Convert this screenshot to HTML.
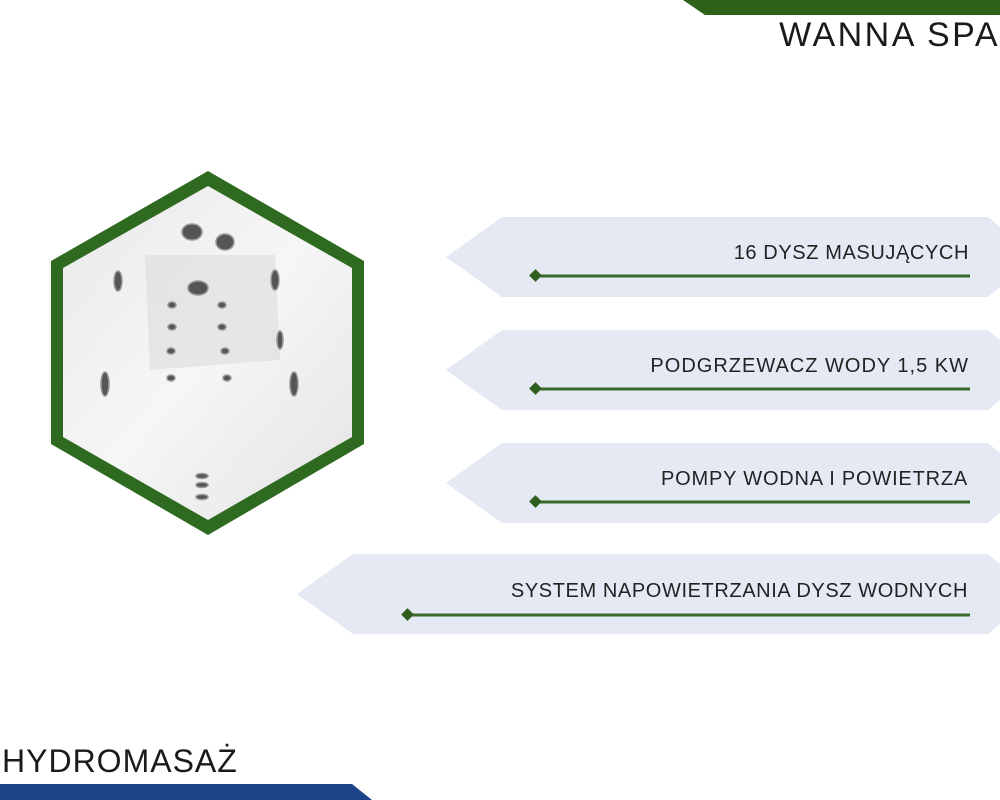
<!DOCTYPE html>
<html><head><meta charset="utf-8"><style>
body{margin:0;width:1000px;height:800px;background:#fff;overflow:hidden;position:relative;font-family:"Liberation Sans","DejaVu Sans",sans-serif}
.t{position:absolute;color:#1a1a1a;white-space:nowrap}
.f{font-size:20px;letter-spacing:0.7px;color:#222}
</style></head><body>
<svg width="1000" height="800" style="position:absolute;left:0;top:0">
<defs>
<linearGradient id="g" x1="0" y1="0" x2="1" y2="1">
<stop offset="0" stop-color="#e9e9e9"/><stop offset="0.5" stop-color="#f6f6f6"/><stop offset="1" stop-color="#e4e4e4"/></linearGradient>
</defs>
<polygon points="683,0 1000,0 1000,15 705,15" fill="#2e6219"/>
<polygon points="0,784 352,784 372,800 0,800" fill="#1a4388"/>
<polygon points="208,171 364,261 364,444 208,535 51,444 51,261" fill="#2e6a1f"/>
<polygon points="208,186 352,268 352,437 208,520 63,437 63,268" fill="url(#g)"/>
<polygon points="145,255 275,255 280,360 150,370" fill="#dcdcdc" opacity="0.6"/>
<g fill="#555" stroke="#999" stroke-width="1.5">
<ellipse cx="192" cy="232" rx="10" ry="8"/><ellipse cx="225" cy="242" rx="9" ry="8"/>
<ellipse cx="198" cy="288" rx="10" ry="7"/>
<ellipse cx="118" cy="281" rx="4" ry="10"/><ellipse cx="275" cy="280" rx="4" ry="10"/>
<ellipse cx="280" cy="340" rx="3" ry="9"/>
<ellipse cx="105" cy="384" rx="4" ry="12"/><ellipse cx="294" cy="384" rx="4" ry="12"/>
<ellipse cx="172" cy="305" rx="4" ry="3"/><ellipse cx="222" cy="305" rx="4" ry="3"/>
<ellipse cx="172" cy="327" rx="4" ry="3"/><ellipse cx="222" cy="327" rx="4" ry="3"/>
<ellipse cx="171" cy="351" rx="4" ry="3"/><ellipse cx="225" cy="351" rx="4" ry="3"/>
<ellipse cx="171" cy="378" rx="4" ry="3"/><ellipse cx="227" cy="378" rx="4" ry="3"/>
<ellipse cx="202" cy="476" rx="6" ry="2.5"/><ellipse cx="202" cy="485" rx="6" ry="2.5"/><ellipse cx="202" cy="497" rx="6" ry="2.5"/>
</g>
<g fill="#e4e9f4">
<polygon points="446,257 502,217 988,217 1000,227 1000,287 988,297 502,297"/>
<polygon points="446,370 502,330 988,330 1000,340 1000,400 988,410 502,410"/>
<polygon points="446,483 502,443 988,443 1000,453 1000,513 988,523 502,523"/>
<polygon points="297,594 353,554 988,554 1000,564 1000,624 988,634 353,634"/>
</g>
<g stroke="#3a6a2a" stroke-width="3">
<line x1="536" y1="276" x2="970" y2="276"/>
<line x1="536" y1="389" x2="970" y2="389"/>
<line x1="536" y1="502" x2="970" y2="502"/>
<line x1="407" y1="615" x2="970" y2="615"/>
</g>
<g fill="#2e5f1e">
<rect x="531" y="271" width="9" height="9" transform="rotate(45 535.5 275.5)"/>
<rect x="531" y="384" width="9" height="9" transform="rotate(45 535.5 388.5)"/>
<rect x="531" y="497" width="9" height="9" transform="rotate(45 535.5 501.5)"/>
<rect x="403" y="610" width="9" height="9" transform="rotate(45 407.5 614.5)"/>
</g>
</svg>
<div class="t" style="right:0px;top:16px;font-size:34px;letter-spacing:2.5px">WANNA SPA</div>
<div class="t" style="left:2px;top:743px;font-size:32px;letter-spacing:1px">HYDROMASAŻ</div>
<div class="t f" style="right:31px;top:242px;letter-spacing:0.6px">16 DYSZ MASUJĄCYCH</div>
<div class="t f" style="right:31px;top:355px;letter-spacing:1px">PODGRZEWACZ WODY 1,5 KW</div>
<div class="t f" style="right:32px;top:468px;letter-spacing:0.8px">POMPY WODNA I POWIETRZA</div>
<div class="t f" style="right:32px;top:580px;letter-spacing:0.6px">SYSTEM NAPOWIETRZANIA DYSZ WODNYCH</div>
</body></html>
